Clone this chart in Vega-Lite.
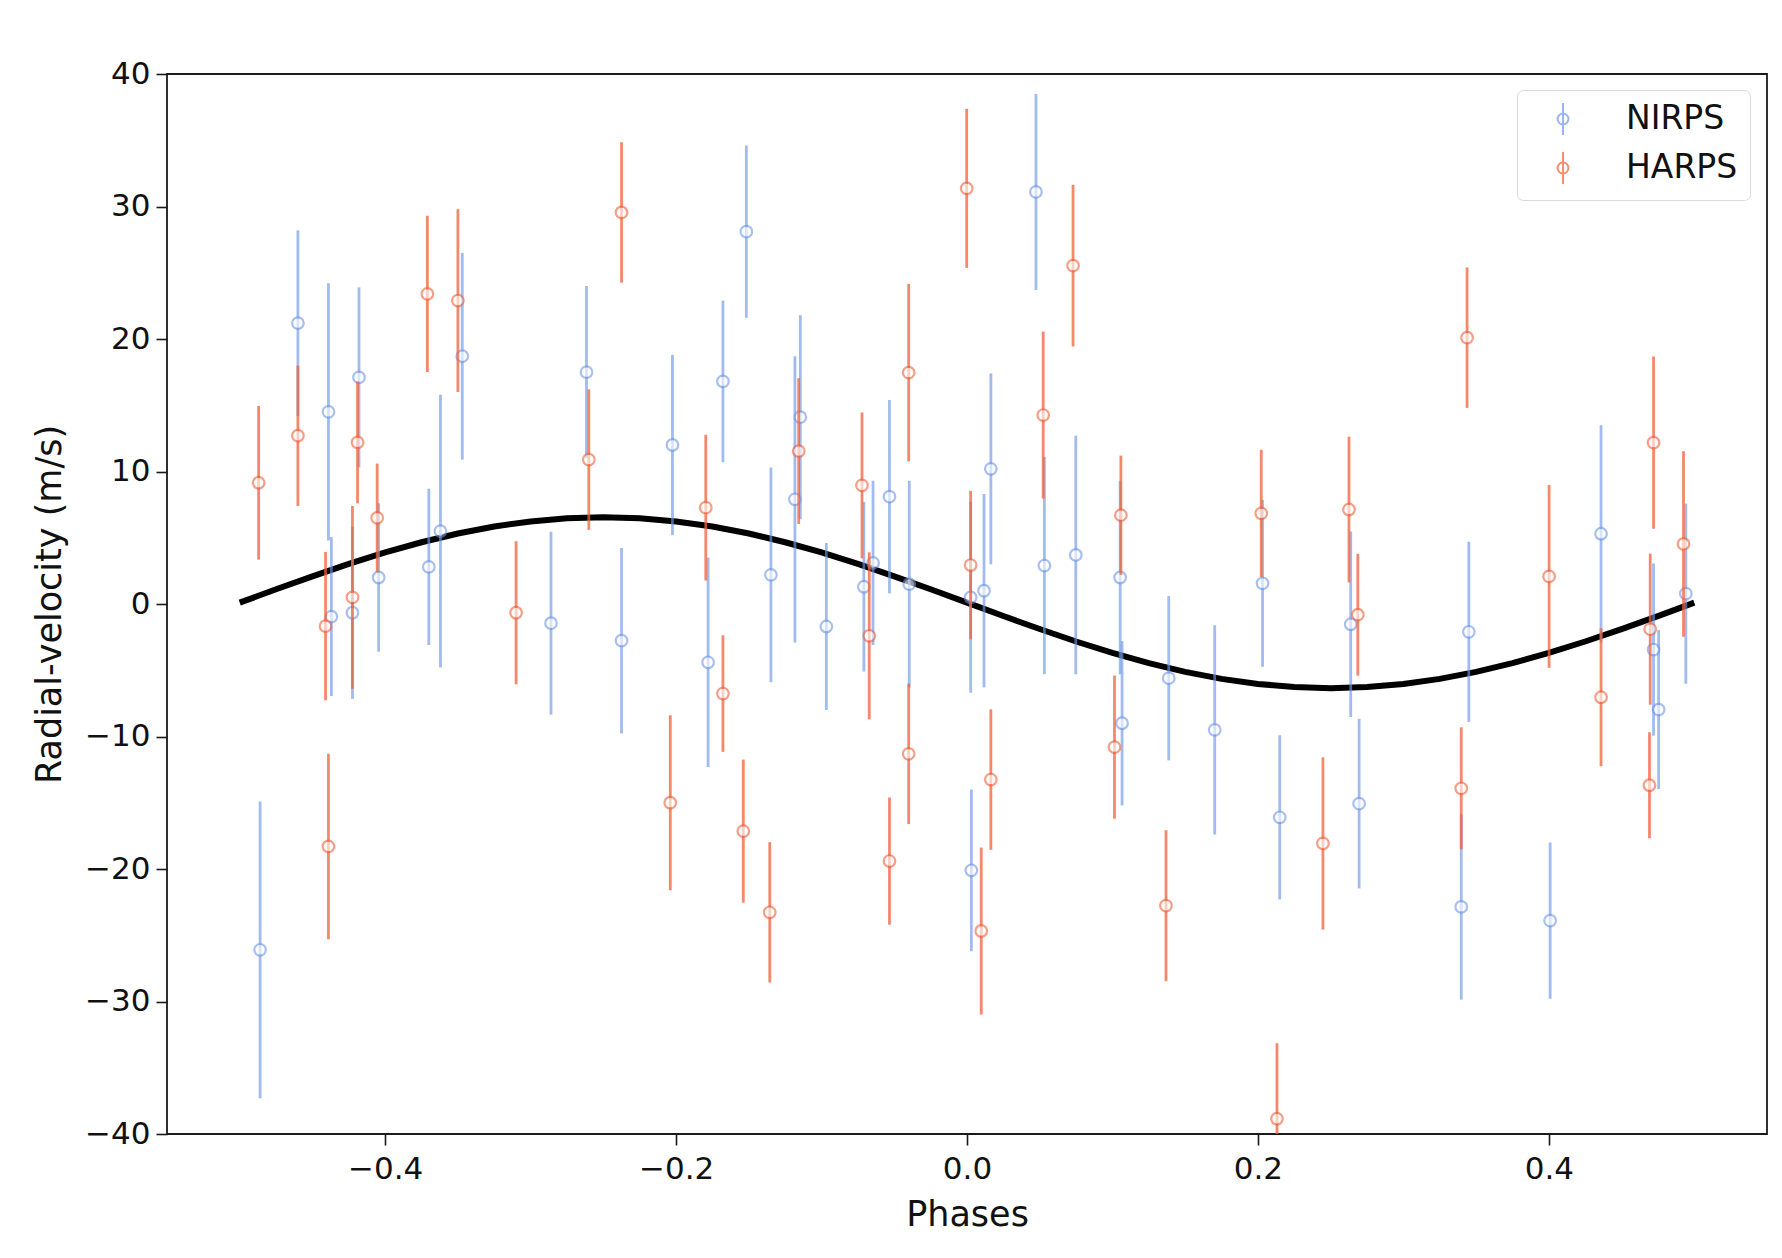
{
  "$schema": "https://vega.github.io/schema/vega-lite/v6.json",
  "width": 1600,
  "height": 1060,
  "autosize": {"type": "none"},
  "padding": {"left": 167, "top": 74, "right": 15, "bottom": 124},
  "background": "white",
  "config": {
    "font": "DejaVu Sans",
    "view": {"stroke": "#1a1a1a", "strokeWidth": 1.8},
    "axis": {"grid": false, "domain": false, "tickColor": "#1a1a1a", "tickWidth": 1.6, "tickSize": 11, "labelColor": "#111", "titleColor": "#111", "titleFontWeight": "normal"},
    "legend": {"title": null, "orient": "none", "legendX": 1350, "legendY": 16, "symbolType": "M0,-1L0,1M-0.34,0A0.34,0.34,0,1,1,0.34,0A0.34,0.34,0,1,1,-0.34,0", "symbolSize": 1024, "symbolStrokeWidth": 2, "symbolOpacity": 0.7, "symbolFillColor": "white", "labelFontSize": 33, "labelColor": "#111", "padding": 12, "symbolOffset": 17, "labelOffset": 46, "rowPadding": 9, "strokeColor": "#d9d9d9", "fillColor": "white", "cornerRadius": 6}
  },
  "datasets": {
    "model": [
      {"phase": -0.5, "rv": 0.10}, {"phase": -0.475, "rv": 1.11}, {"phase": -0.45, "rv": 2.09}, {"phase": -0.425, "rv": 3.03},
      {"phase": -0.4, "rv": 3.89}, {"phase": -0.375, "rv": 4.66}, {"phase": -0.35, "rv": 5.32}, {"phase": -0.325, "rv": 5.85},
      {"phase": -0.3, "rv": 6.23}, {"phase": -0.275, "rv": 6.47}, {"phase": -0.25, "rv": 6.55}, {"phase": -0.225, "rv": 6.47},
      {"phase": -0.2, "rv": 6.23}, {"phase": -0.175, "rv": 5.85}, {"phase": -0.15, "rv": 5.32}, {"phase": -0.125, "rv": 4.66},
      {"phase": -0.1, "rv": 3.89}, {"phase": -0.075, "rv": 3.03}, {"phase": -0.05, "rv": 2.09}, {"phase": -0.025, "rv": 1.11},
      {"phase": 0.0, "rv": 0.10}, {"phase": 0.025, "rv": -0.91}, {"phase": 0.05, "rv": -1.89}, {"phase": 0.075, "rv": -2.83},
      {"phase": 0.1, "rv": -3.69}, {"phase": 0.125, "rv": -4.46}, {"phase": 0.15, "rv": -5.12}, {"phase": 0.175, "rv": -5.65},
      {"phase": 0.2, "rv": -6.03}, {"phase": 0.225, "rv": -6.27}, {"phase": 0.25, "rv": -6.35}, {"phase": 0.275, "rv": -6.27},
      {"phase": 0.3, "rv": -6.03}, {"phase": 0.325, "rv": -5.65}, {"phase": 0.35, "rv": -5.12}, {"phase": 0.375, "rv": -4.46},
      {"phase": 0.4, "rv": -3.69}, {"phase": 0.425, "rv": -2.83}, {"phase": 0.45, "rv": -1.89}, {"phase": 0.475, "rv": -0.91},
      {"phase": 0.5, "rv": 0.10}
    ],
    "nirps": [
      {"inst": "NIRPS", "phase": -0.460, "rv": 21.2, "err": 7.0},
      {"inst": "NIRPS", "phase": -0.439, "rv": 14.5, "err": 9.7},
      {"inst": "NIRPS", "phase": -0.437, "rv": -0.95, "err": 6.0},
      {"inst": "NIRPS", "phase": -0.418, "rv": 17.1, "err": 6.8},
      {"inst": "NIRPS", "phase": -0.4225, "rv": -0.66, "err": 6.5},
      {"inst": "NIRPS", "phase": -0.4045, "rv": 2.0, "err": 5.6},
      {"inst": "NIRPS", "phase": -0.370, "rv": 2.8, "err": 5.9},
      {"inst": "NIRPS", "phase": -0.362, "rv": 5.5, "err": 10.3},
      {"inst": "NIRPS", "phase": -0.347, "rv": 18.7, "err": 7.8},
      {"inst": "NIRPS", "phase": -0.286, "rv": -1.45, "err": 6.9},
      {"inst": "NIRPS", "phase": -0.2616, "rv": 17.5, "err": 6.5},
      {"inst": "NIRPS", "phase": -0.2375, "rv": -2.77, "err": 7.0},
      {"inst": "NIRPS", "phase": -0.2025, "rv": 12.0, "err": 6.8},
      {"inst": "NIRPS", "phase": -0.178, "rv": -4.4, "err": 7.9},
      {"inst": "NIRPS", "phase": -0.1678, "rv": 16.8, "err": 6.1},
      {"inst": "NIRPS", "phase": -0.1517, "rv": 28.1, "err": 6.5},
      {"inst": "NIRPS", "phase": -0.486, "rv": -26.1, "err": 11.2},
      {"inst": "NIRPS", "phase": -0.1348, "rv": 2.2, "err": 8.1},
      {"inst": "NIRPS", "phase": -0.1183, "rv": 7.9, "err": 10.8},
      {"inst": "NIRPS", "phase": -0.1146, "rv": 14.1, "err": 7.7},
      {"inst": "NIRPS", "phase": -0.0967, "rv": -1.7, "err": 6.3},
      {"inst": "NIRPS", "phase": -0.0709, "rv": 1.3, "err": 6.4},
      {"inst": "NIRPS", "phase": -0.0646, "rv": 3.1, "err": 6.2},
      {"inst": "NIRPS", "phase": -0.0533, "rv": 8.1, "err": 7.3},
      {"inst": "NIRPS", "phase": -0.0397, "rv": 1.5, "err": 7.8},
      {"inst": "NIRPS", "phase": 0.0474, "rv": 31.1, "err": 7.4},
      {"inst": "NIRPS", "phase": 0.0532, "rv": 2.9, "err": 8.2},
      {"inst": "NIRPS", "phase": 0.0025, "rv": 0.5, "err": 7.2},
      {"inst": "NIRPS", "phase": 0.003, "rv": -20.1, "err": 6.1},
      {"inst": "NIRPS", "phase": 0.0117, "rv": 1.0, "err": 7.3},
      {"inst": "NIRPS", "phase": 0.0164, "rv": 10.2, "err": 7.2},
      {"inst": "NIRPS", "phase": 0.0748, "rv": 3.7, "err": 9.0},
      {"inst": "NIRPS", "phase": 0.1053, "rv": 2.0, "err": 7.3},
      {"inst": "NIRPS", "phase": 0.1066, "rv": -9.0, "err": 6.2},
      {"inst": "NIRPS", "phase": 0.2032, "rv": 1.56, "err": 6.3},
      {"inst": "NIRPS", "phase": 0.1387, "rv": -5.6, "err": 6.2},
      {"inst": "NIRPS", "phase": 0.1703, "rv": -9.5, "err": 7.9},
      {"inst": "NIRPS", "phase": 0.215, "rv": -16.1, "err": 6.2},
      {"inst": "NIRPS", "phase": 0.2638, "rv": -1.53, "err": 7.0},
      {"inst": "NIRPS", "phase": 0.2696, "rv": -15.07, "err": 6.4},
      {"inst": "NIRPS", "phase": 0.345, "rv": -2.1, "err": 6.8},
      {"inst": "NIRPS", "phase": 0.3398, "rv": -22.86, "err": 7.0},
      {"inst": "NIRPS", "phase": 0.4009, "rv": -23.9, "err": 5.9},
      {"inst": "NIRPS", "phase": 0.4359, "rv": 5.3, "err": 8.2},
      {"inst": "NIRPS", "phase": 0.4720, "rv": -3.44, "err": 6.5},
      {"inst": "NIRPS", "phase": 0.4755, "rv": -7.97, "err": 6.0},
      {"inst": "NIRPS", "phase": 0.4942, "rv": 0.78, "err": 6.8}
    ],
    "harps": [
      {"inst": "HARPS", "phase": -0.487, "rv": 9.15, "err": 5.8},
      {"inst": "HARPS", "phase": -0.460, "rv": 12.7, "err": 5.3},
      {"inst": "HARPS", "phase": -0.441, "rv": -1.67, "err": 5.6},
      {"inst": "HARPS", "phase": -0.419, "rv": 12.2, "err": 4.6},
      {"inst": "HARPS", "phase": -0.4225, "rv": 0.5, "err": 6.9},
      {"inst": "HARPS", "phase": -0.4055, "rv": 6.5, "err": 4.1},
      {"inst": "HARPS", "phase": -0.371, "rv": 23.4, "err": 5.9},
      {"inst": "HARPS", "phase": -0.350, "rv": 22.9, "err": 6.9},
      {"inst": "HARPS", "phase": -0.310, "rv": -0.66, "err": 5.4},
      {"inst": "HARPS", "phase": -0.260, "rv": 10.9, "err": 5.3},
      {"inst": "HARPS", "phase": -0.2375, "rv": 29.55, "err": 5.3},
      {"inst": "HARPS", "phase": -0.204, "rv": -15.0, "err": 6.6},
      {"inst": "HARPS", "phase": -0.1796, "rv": 7.27, "err": 5.5},
      {"inst": "HARPS", "phase": -0.1678, "rv": -6.76, "err": 4.4},
      {"inst": "HARPS", "phase": -0.1538, "rv": -17.14, "err": 5.4},
      {"inst": "HARPS", "phase": -0.439, "rv": -18.3, "err": 7.0},
      {"inst": "HARPS", "phase": -0.1356, "rv": -23.27, "err": 5.3},
      {"inst": "HARPS", "phase": -0.1157, "rv": 11.54, "err": 5.5},
      {"inst": "HARPS", "phase": -0.0722, "rv": 8.95, "err": 5.5},
      {"inst": "HARPS", "phase": -0.0672, "rv": -2.4, "err": 6.3},
      {"inst": "HARPS", "phase": -0.0533, "rv": -19.4, "err": 4.8},
      {"inst": "HARPS", "phase": -0.0401, "rv": 17.46, "err": 6.7},
      {"inst": "HARPS", "phase": -0.0401, "rv": -11.31, "err": 5.3},
      {"inst": "HARPS", "phase": -0.0002, "rv": 31.37, "err": 6.0},
      {"inst": "HARPS", "phase": 0.0729, "rv": 25.54, "err": 6.1},
      {"inst": "HARPS", "phase": 0.0524, "rv": 14.26, "err": 6.3},
      {"inst": "HARPS", "phase": 0.0025, "rv": 2.94, "err": 5.6},
      {"inst": "HARPS", "phase": 0.0098, "rv": -24.68, "err": 6.3},
      {"inst": "HARPS", "phase": 0.0164, "rv": -13.25, "err": 5.3},
      {"inst": "HARPS", "phase": 0.1058, "rv": 6.7, "err": 4.5},
      {"inst": "HARPS", "phase": 0.1014, "rv": -10.8, "err": 5.4},
      {"inst": "HARPS", "phase": 0.2023, "rv": 6.84, "err": 4.8},
      {"inst": "HARPS", "phase": 0.1368, "rv": -22.77, "err": 5.7},
      {"inst": "HARPS", "phase": 0.2131, "rv": -38.85, "err": 5.7},
      {"inst": "HARPS", "phase": 0.2626, "rv": 7.13, "err": 5.5},
      {"inst": "HARPS", "phase": 0.2687, "rv": -0.81, "err": 4.6},
      {"inst": "HARPS", "phase": 0.3438, "rv": 20.1, "err": 5.3},
      {"inst": "HARPS", "phase": 0.4002, "rv": 2.08, "err": 6.9},
      {"inst": "HARPS", "phase": 0.472, "rv": 12.18, "err": 6.5},
      {"inst": "HARPS", "phase": 0.4926, "rv": 4.53, "err": 7.0},
      {"inst": "HARPS", "phase": 0.4697, "rv": -1.9, "err": 5.7},
      {"inst": "HARPS", "phase": 0.2447, "rv": -18.07, "err": 6.5},
      {"inst": "HARPS", "phase": 0.3398, "rv": -13.91, "err": 4.6},
      {"inst": "HARPS", "phase": 0.4359, "rv": -7.04, "err": 5.2},
      {"inst": "HARPS", "phase": 0.4692, "rv": -13.68, "err": 4.0}
    ]
  },
  "encoding": {
    "x": {"field": "phase", "type": "quantitative", "scale": {"domain": [-0.55, 0.55], "nice": false, "zero": false},
      "axis": {"title": "Phases", "values": [-0.4, -0.2, 0, 0.2, 0.4], "format": ".1f", "labelFontSize": 31, "labelBaseline": "alphabetic", "labelPadding": 33, "titleFontSize": 35, "titleBaseline": "alphabetic", "titleX": 800, "titleY": 91}},
    "y": {"field": "rv", "type": "quantitative", "scale": {"domain": [-40, 40], "nice": false, "zero": false},
      "axis": {"title": "Radial-velocity (m/s)", "values": [-40, -30, -20, -10, 0, 10, 20, 30, 40], "labelFontSize": 31, "labelPadding": 6, "titleFontSize": 35, "titleBaseline": "alphabetic", "titleX": -107, "titleY": 530}}
  },
  "layer": [
    {
      "data": {"name": "model"},
      "mark": {"type": "line", "color": "black", "strokeWidth": 6, "clip": true}
    },
    {
      "data": {"name": "nirps"},
      "mark": {"type": "errorbar", "thickness": 2.8, "opacity": 0.65, "clip": true},
      "encoding": {
        "yError": {"field": "err"},
        "color": {"field": "inst", "type": "nominal", "scale": {"domain": ["NIRPS", "HARPS"], "range": ["#6f96e6", "#f0603a"]}}
      }
    },
    {
      "data": {"name": "nirps"},
      "mark": {"type": "point", "shape": "circle", "filled": false, "fill": "white", "size": 135, "strokeWidth": 2.2, "opacity": 0.6, "clip": true},
      "encoding": {
        "color": {"field": "inst", "type": "nominal", "scale": {"domain": ["NIRPS", "HARPS"], "range": ["#6f96e6", "#f0603a"]}}
      }
    },
    {
      "data": {"name": "harps"},
      "mark": {"type": "errorbar", "thickness": 2.8, "opacity": 0.75, "clip": true},
      "encoding": {
        "yError": {"field": "err"},
        "color": {"field": "inst", "type": "nominal", "scale": {"domain": ["NIRPS", "HARPS"], "range": ["#6f96e6", "#f0603a"]}}
      }
    },
    {
      "data": {"name": "harps"},
      "mark": {"type": "point", "shape": "circle", "filled": false, "fill": "white", "size": 135, "strokeWidth": 2.2, "opacity": 0.6, "clip": true},
      "encoding": {
        "color": {"field": "inst", "type": "nominal", "scale": {"domain": ["NIRPS", "HARPS"], "range": ["#6f96e6", "#f0603a"]}}
      }
    }
  ]
}
